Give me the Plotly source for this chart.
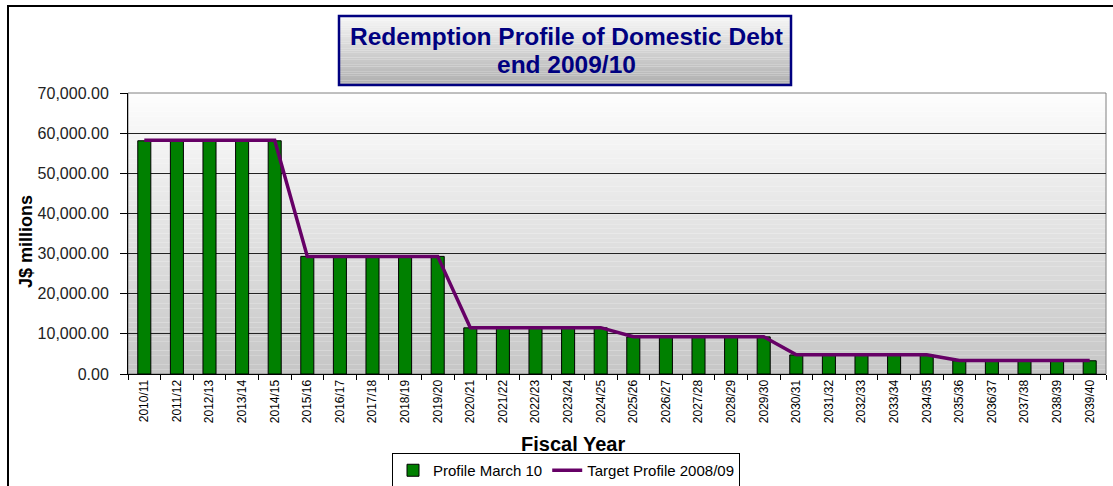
import plotly.graph_objects as go

categories = ["2010/11", "2011/12", "2012/13", "2013/14", "2014/15",
              "2015/16", "2016/17", "2017/18", "2018/19", "2019/20",
              "2020/21", "2021/22", "2022/23", "2023/24", "2024/25",
              "2025/26", "2026/27", "2027/28", "2028/29", "2029/30",
              "2030/31", "2031/32", "2032/33", "2033/34", "2034/35",
              "2035/36", "2036/37", "2037/38", "2038/39", "2039/40"]
profile_march_10 = [58100] * 5 + [29300] * 5 + [11500] * 5 + [9250] * 5 + [4750] * 5 + [3300] * 5
target_profile_0809 = [58200] * 5 + [29300] * 5 + [11550] * 5 + [9300] * 5 + [4800] * 5 + [3350] * 5
y_ticks = [0, 10000, 20000, 30000, 40000, 50000, 60000, 70000]

W, H = 1113, 486
L, R, T, B = 128, 7, 93, 112
pw, ph = W - L - R, H - T - B


def px(x):
    return (x - L) / pw


def py(y):
    return (H - B - y) / ph


FONT = "Liberation Sans, Arial, sans-serif"

fig = go.Figure()
fig.add_trace(go.Bar(
    x=categories, y=profile_march_10, name="Profile March 10",
    marker=dict(color="#008000", line=dict(color="#000000", width=1)),
    width=0.4,
))
fig.add_trace(go.Scatter(
    x=categories, y=target_profile_0809, name="Target Profile 2008/09",
    mode="lines", line=dict(color="#660066", width=3.5),
))

shapes = []
# plot background gradient
n = 60
for i in range(n):
    t = i / (n - 1)
    c = int(round(253 - (253 - 198) * t))
    shapes.append(dict(type="rect", xref="paper", yref="paper",
                       x0=0, x1=1, y0=1 - (i + 1) / n, y1=1 - i / n,
                       fillcolor=f"rgb({c},{c},{c})", line=dict(width=0), layer="below"))
# plot area border
shapes.append(dict(type="rect", xref="paper", yref="paper", x0=0, x1=1, y0=0, y1=1,
                   line=dict(color="#808080", width=1), layer="below"))
# outer chart frame
shapes.append(dict(type="rect", xref="paper", yref="paper",
                   x0=px(8), x1=px(1130), y0=py(520), y1=py(6),
                   line=dict(color="#000000", width=2)))
# title box gradient
bx0, bx1, by0, by1 = 339, 791, 16, 85
m = 30
for i in range(m):
    t = i / (m - 1)
    c = int(round(246 - (246 - 176) * t))
    ya = by0 + (by1 - by0) * i / m
    yb = by0 + (by1 - by0) * (i + 1) / m
    shapes.append(dict(type="rect", xref="paper", yref="paper",
                       x0=px(bx0), x1=px(bx1), y0=py(yb), y1=py(ya),
                       fillcolor=f"rgb({c},{c},{c})", line=dict(width=0)))
shapes.append(dict(type="rect", xref="paper", yref="paper",
                   x0=px(bx0), x1=px(bx1), y0=py(by1), y1=py(by0),
                   line=dict(color="#000080", width=2.5)))

annotations = [
    dict(text="<b>Redemption Profile of Domestic Debt</b>", x=px(566), y=py(37),
         xref="paper", yref="paper", showarrow=False,
         font=dict(family=FONT, size=24.5, color="#000080"), xanchor="center", yanchor="middle"),
    dict(text="<b>end 2009/10</b>", x=px(566), y=py(64),
         xref="paper", yref="paper", showarrow=False,
         font=dict(family=FONT, size=24.5, color="#000080"), xanchor="center", yanchor="middle"),
    dict(text="<b>Fiscal Year</b>", x=px(573), y=py(444),
         xref="paper", yref="paper", showarrow=False,
         font=dict(family=FONT, size=20, color="#000000"), xanchor="center", yanchor="middle"),
    dict(text="<b>J$ millions</b>", x=px(26), y=py(242), textangle=-90,
         xref="paper", yref="paper", showarrow=False,
         font=dict(family=FONT, size=18, color="#000000"), xanchor="center", yanchor="middle"),
]

fig.update_layout(
    width=W, height=H,
    margin=dict(l=L, r=R, t=T, b=B, pad=0, autoexpand=False),
    paper_bgcolor="#ffffff", plot_bgcolor="rgba(0,0,0,0)",
    font=dict(family=FONT, color="#000000"),
    shapes=shapes, annotations=annotations,
    bargap=0.6,
    showlegend=True,
    legend=dict(orientation="h", x=px(566), y=py(453), xanchor="center", yanchor="top",
                bordercolor="#000000", borderwidth=1, bgcolor="#ffffff",
                font=dict(family=FONT, size=15, color="#000000"),
                itemwidth=30, tracegroupgap=0),
)
fig.update_xaxes(
    type="category", tickangle=-90, tickfont=dict(family=FONT, size=12, color="#000000"),
    ticks="outside", tickson="boundaries", ticklen=5, tickcolor="#000000",
    showline=True, linecolor="#000000", linewidth=1, showgrid=False, automargin=False,
    range=[-0.5, len(categories) - 0.5],
)
fig.update_yaxes(
    range=[0, 70000], tickvals=y_ticks, tickformat=",.2f",
    tickfont=dict(family=FONT, size=16, color="#222222"),
    ticks="outside", ticklen=7, tickcolor="#000000", ticklabelstandoff=8,
    showline=True, linecolor="#000000", linewidth=1, automargin=False,
    showgrid=True, gridcolor="#222222", gridwidth=1, zeroline=False,
)

fig.write_html("out.html", config={"displayModeBar": False},
               post_script="document.body.style.margin='0';document.body.style.overflow='hidden';")
